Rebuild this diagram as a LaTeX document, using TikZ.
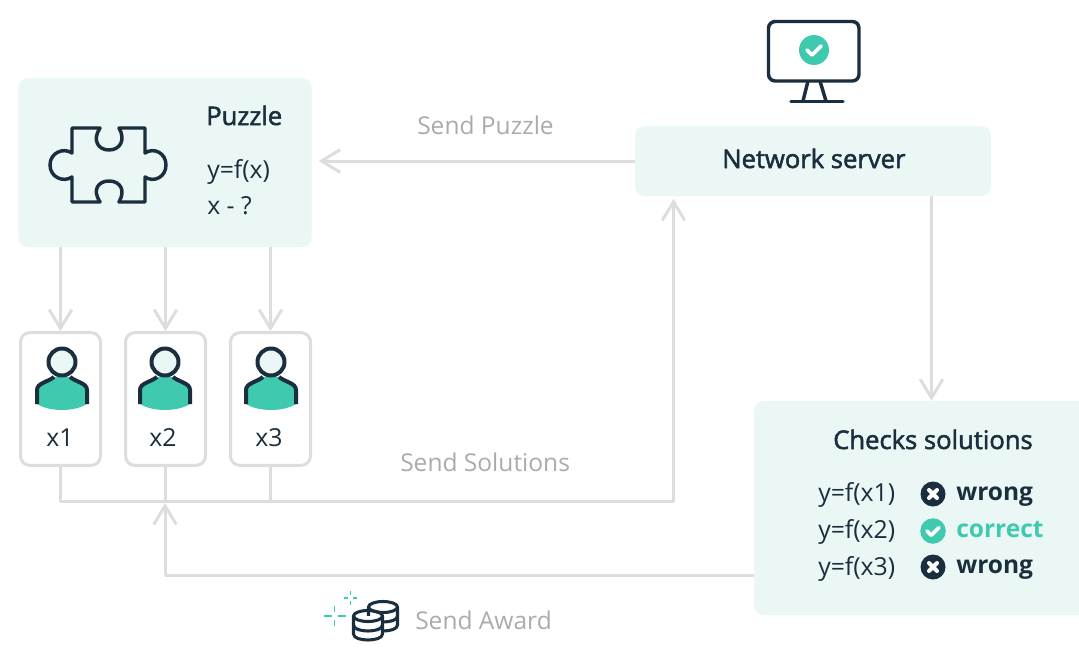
\documentclass[tikz,border=0pt]{standalone}
\usepackage{fontspec}
\setmainfont{Open Sans}
\newfontfamily\semibold[FakeBold=2]{Open Sans}
\usetikzlibrary{arrows.meta}
\definecolor{pale}{HTML}{EBF7F5}
\definecolor{teal}{HTML}{3FCAB0}
\definecolor{ink}{HTML}{1A2E3D}
\definecolor{wire}{HTML}{DDDDDD}
\definecolor{greytext}{HTML}{ABABAB}
\tikzset{
	panel/.style={fill=pale,rounded corners=7pt,inner sep=0pt},
	userbox/.style={draw=wire,line width=2.25pt,rounded corners=7pt,fill=white,minimum width=60pt,minimum height=99.5pt,inner sep=0pt},
	link/.style={draw=wire,line width=2.25pt},
	head/.style={anchor=base west,font=\semibold\fontsize{19.2}{22}\selectfont,text=ink,inner sep=0pt},
	body/.style={anchor=base west,font=\fontsize{18.6}{22}\selectfont,text=ink,inner sep=0pt},
	verdict/.style={anchor=base west,font=\bfseries\fontsize{18.4}{22}\selectfont,text=ink,inner sep=0pt},
	caption/.style={anchor=base west,font=\fontsize{18.4}{22}\selectfont,text=greytext,inner sep=0pt},
	icon/.style={draw=ink,line width=2.6pt},
	usericon/.style={draw=ink,line width=3pt},
	coin/.style={draw=ink,line width=2.3pt},
	spark/.style={draw=teal,line width=1.3pt},
	pics/okbadge/.style={code={
		\fill[teal] (0,0) circle (15);
		\draw[white,line width=2.8pt,line cap=round,line join=round] (-7,0) -- (-2,5) -- (7,-4);
	}},
	pics/nobadge/.style={code={
		\fill[ink] (0,0) circle (12.5);
		\draw[white,line width=3pt,line cap=round] (-4,-4) -- (4,4) (-4,4) -- (4,-4);
	}},
	pics/user/.style={code={
		\fill[teal] (-25,42) -- (-25,28) .. controls (-25,21) and (-14,20) .. (-8,15) -- (8,15) .. controls (14,20) and (25,21) .. (25,28) -- (25,42) .. controls (12,50) and (-12,50) .. (-25,42) -- cycle;
		\draw[usericon] (-25,42) -- (-25,28) .. controls (-25,21) and (-14,20) .. (-8,15);
		\draw[usericon] (25,42) -- (25,28) .. controls (25,21) and (14,20) .. (8,15);
		\draw[usericon,fill=pale] (0,0) circle (13.5);
	}},
}
\begin{document}
\begin{tikzpicture}[x=0.75pt,y=-0.75pt,line join=round,>={Straight Barb[length=14pt,width=17pt]}]
	\useasboundingbox (0,0) rectangle (1079,668);
	\clip (0,0) rectangle (1079,668);
	% boxes
	\node[panel,minimum width=220pt,minimum height=126.75pt] (puzzle) at (165,162.5) {};
	\node[panel,minimum width=267pt,minimum height=52.5pt] (server) at (813,161) {};
	\node[panel,minimum width=252pt,minimum height=160.5pt] (checks) at (922,508) {};
	\node[userbox] (x1) at (60.5,399) {};
	\node[userbox] (x2) at (165.5,399) {};
	\node[userbox] (x3) at (270.5,399) {};
	% connectors
	\coordinate (bus) at (673.5,501);
	\coordinate (awardout) at (754,575);
	\coordinate (awardin) at (165,503);
	\draw[link,->,shorten >=5pt] (server.west) -- (puzzle.east |- server.west);
	\draw[link,->] (server.south -| 931.5,0) -- (checks.north -| 931.5,0);
	\foreach \i in {1,2,3}
		\draw[link,->] (puzzle.south -| x\i) -- (x\i.north);
	\draw[link,->,shorten >=2pt] (x1.south) |- (bus) -- (server.south -| bus);
	\draw[link] (x2.south) -- (x2.south |- bus);
	\draw[link] (x3.south) -- (x3.south |- bus);
	\draw[link,->] (awardout) -| (awardin);
	% puzzle piece
	\draw[icon] (72,128) -- (100,128) .. controls (92,140) and (98,150) .. (109,150) .. controls (120,150) and (126,140) .. (119,128)
		-- (145,128) -- (145,153) .. controls (154,147) and (166,153) .. (166,165) .. controls (166,177) and (154,183) .. (145,177)
		-- (145,202) -- (119,202) .. controls (126,190) and (120,181) .. (109,181) .. controls (98,181) and (92,190) .. (100,202)
		-- (72,202) -- (72,177) .. controls (63,183) and (50,177) .. (50,165) .. controls (50,153) and (63,147) .. (72,153) -- cycle;
	\node[head] (puzzletitle) at (206,125) {Puzzle};
	\node[body] (puzzleeq) at (207,178) {y=f(x)};
	\node[body] (puzzleq) at (207,214) {x - ?};
	% monitor
	\draw[icon,rounded corners=5pt] (768.5,21.5) rectangle (859,81);
	\draw[icon] (808,81) -- (803,101) (820,81) -- (826,101);
	\draw[icon,line cap=round] (791,101.5) -- (843,101.5);
	\pic at (814,50) {okbadge};
	\node[head] (servertitle) at (722,168) {Network server};
	% users
	\foreach \i/\xx in {1/62,2/165,3/271}{
		\pic at (\xx,362) {user};
		\node[body,anchor=base] (label\i) at (\xx-2,446) {x\i};
	}
	% checks
	\node[head] (checkstitle) at (833,449) {Checks solutions};
	\node[body] (eq1) at (818,501) {y=f(x1)};
	\node[body] (eq2) at (818,538) {y=f(x2)};
	\node[body] (eq3) at (818,575) {y=f(x3)};
	\pic at (933,494) {nobadge};
	\pic[scale=0.85] at (933,531) {okbadge};
	\pic at (933,567) {nobadge};
	\node[verdict] (verdict1) at (956,500) {wrong};
	\node[verdict,text=teal] (verdict2) at (956,537) {correct};
	\node[verdict] (verdict3) at (956,573) {wrong};
	% labels
	\node[caption] (sendpuzzle) at (417,134) {Send Puzzle};
	\node[caption] (sendsolutions) at (400,471) {Send Solutions};
	\node[caption] (sendaward) at (415,629) {Send Award};
	% coins
	\foreach \cx/\cy in {383/607,368/616}{
		\fill[white] (\cx-14.5,\cy) -- (\cx-14.5,\cy+18) .. controls (\cx-14.5,\cy+26) and (\cx+14.5,\cy+26) .. (\cx+14.5,\cy+18) -- (\cx+14.5,\cy) -- cycle;
		\draw[coin] (\cx,\cy) ellipse (14.5 and 5.5);
		\draw[coin] (\cx-14.5,\cy) -- (\cx-14.5,\cy+18) .. controls (\cx-14.5,\cy+26) and (\cx+14.5,\cy+26) .. (\cx+14.5,\cy+18) -- (\cx+14.5,\cy);
		\draw[coin] (\cx-14.5,\cy+9) .. controls (\cx-14.5,\cy+17) and (\cx+14.5,\cy+17) .. (\cx+14.5,\cy+9);
	}
	% sparks
	\draw[spark] (324,616) -- (332,616) (338,616) -- (346,616) (334.5,606) -- (334.5,612) (334.5,620) -- (334.5,626);
	\draw[spark] (344,598) -- (348,598) (353,598) -- (357,598) (350.5,591) -- (350.5,595) (350.5,601) -- (350.5,605);
\end{tikzpicture}
\end{document}
